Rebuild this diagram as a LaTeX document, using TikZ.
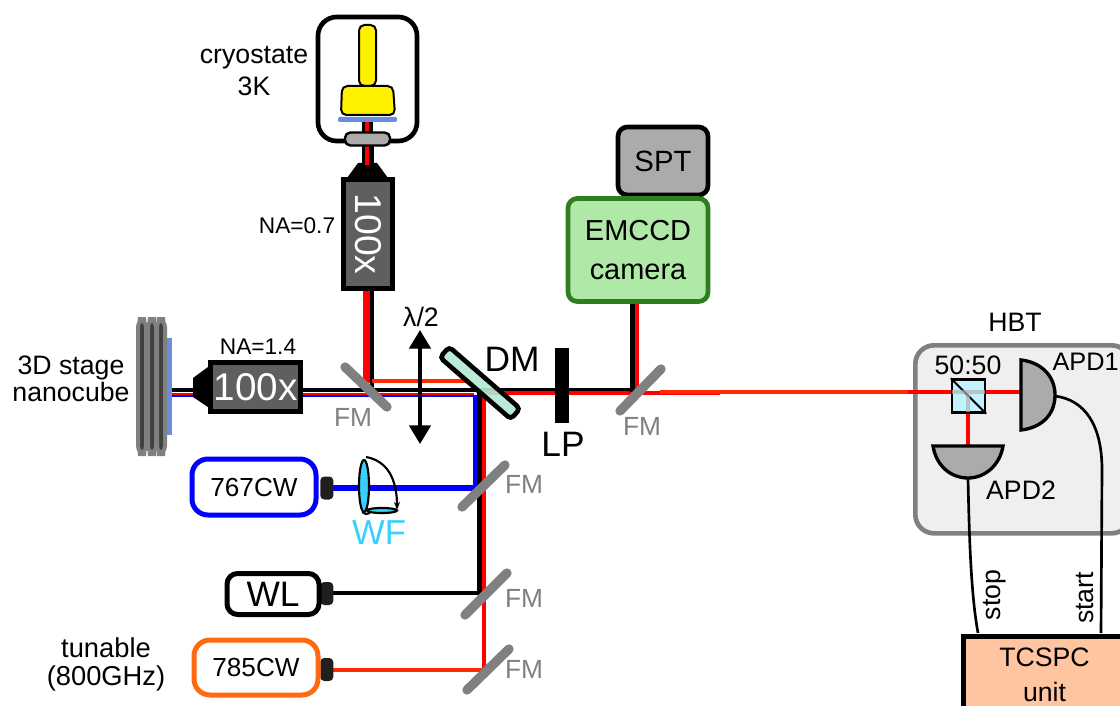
\documentclass[tikz,border=0pt]{standalone}
\usepackage{fontspec}
\setmainfont{Liberation Sans}
\usetikzlibrary{arrows.meta,calc}
\definecolor{fmg}{HTML}{808080}
\definecolor{darkbox}{HTML}{5F5F5F}
\definecolor{redo}{HTML}{FF2A00}
\definecolor{dmfill}{HTML}{B5E8D5}
\definecolor{wfc}{HTML}{38D0FF}
\definecolor{bluepl}{HTML}{6A8FD8}
\definecolor{emg}{HTML}{B0E8A8}
\definecolor{emd}{HTML}{2E7D1E}
\definecolor{tcs}{HTML}{FFC4A0}
\definecolor{hbtf}{HTML}{EFEFEF}
\definecolor{apdg}{HTML}{ABABAB}
\definecolor{orangec}{HTML}{FF6A10}
\newcommand{\px}{0.75pt}
\tikzset{
 x=0.75pt,y=-0.75pt,
 t/.style={inner sep=0pt,align=center,text=black,font=\fontsize{#1}{\dimexpr #1pt*6/5\relax}\selectfont},
 fmlab/.style={inner sep=0pt,text=fmg,font=\fontsize{19.7}{22}\selectfont},
 beamk/.style={line width=3.6pt,black},
 beamr/.style={line width=3pt,red},
 beamo/.style={line width=3.4pt,redo},
 fmirror/.style={line width=7pt,fmg,line cap=round},
 laser/.style={draw,rounded corners=12pt,line width=3.75pt,fill=white,inner sep=0pt},
 capbox/.style={fill=black!88,rounded corners=3pt,minimum width=13*\px,minimum height=23*\px,inner sep=0pt},
 obj/.style={draw=black,fill=darkbox,line width=3.5pt,inner sep=0pt,text=white,font=\fontsize{29}{29}\selectfont},
 wire/.style={line width=2pt,black},
}
\begin{document}
\begin{tikzpicture}
\useasboundingbox (0,0) rectangle (1120,706);
% anchors
\coordinate (stageR) at (170,390);
\coordinate (bsL) at (910,392);
% HBT box
\node[draw=fmg,fill=hbtf,line width=3.5pt,rounded corners=14pt,minimum width=215*\px,minimum height=188*\px,inner sep=0pt,anchor=north west] (hbt) at (913,343) {};
% Vertical beams
\draw[line width=5pt,red] (366.6,140) -- (366.6,383);
\draw[beamk] (372,140) -- (372,390);
\draw[beamo] (372,381) -- (470,381);
\draw[line width=1.6pt,blue] (170,395.5) -- (474,395.5);
\draw[line width=1.5pt,red] (170,393.8) -- (474,393.8);
\draw[line width=3pt,blue] (474.5,395) -- (474.5,488);
\draw[line width=4.2pt,blue] (330,488) -- (476,488);
\draw[beamr] (484,393) -- (484,670);
\draw[beamk] (stageR) -- (632,390);
\draw[beamk] (479.5,392) -- (479.5,595);
\draw[beamk] (333,593) -- (481,593);
\draw[beamo] (330,670) -- (485,670);
\draw[beamr] (482,392.6) -- (720,392.6);
\draw[beamr] (637.3,303) -- (637.3,392);
\draw[beamk] (632.5,303) -- (632.5,391.5);
\draw[line width=2.8pt,redo] (660,392) -- (bsL);
\draw[line width=3.5pt,red] (908,392) -- (1020,392);
\draw[line width=3.5pt,red] (968,392) -- (968,450);
% FM mirrors
\draw[fmirror] (345,367) -- (387,407);
\draw[fmirror] (620,411) -- (661,369);
\draw[fmirror] (462,507) -- (505,465);
\draw[fmirror] (465,615) -- (507,573);
\draw[fmirror] (467,690) -- (509,649);
\node[fmlab] (fml1) at (353,417) {FM};
\node[fmlab] (fml2) at (642,426) {FM};
\node[fmlab] (fml3) at (524,484) {FM};
\node[fmlab] (fml4) at (524,598) {FM};
\node[fmlab] (fml5) at (524,669) {FM};
% Stage
\foreach \xx in {142,152,161}{
  \draw[line width=3pt,draw=fmg,fill=black!75,rounded corners=6pt] (\xx-4,319) rectangle (\xx+4,454);
}
\fill[bluepl] (167,338) rectangle (172,435);
\node[t=20,font=\fontsize{20}{20.5}\selectfont] (stage) at (71,379) {3D stage\\nanocube};
% objective horizontal
\fill (193,378) -- (208,367) -- (208,407) -- (193,397) -- cycle;
\node[obj,minimum width=90*\px,minimum height=49*\px] (objH) at (255.5,387) {100x};
\node[t=17] (na14) at (258,347) {NA=1.4};
% objective vertical
\fill (347,178) -- (358,163) -- (377,163) -- (388,178) -- cycle;
\node[obj,minimum width=109*\px,minimum height=49*\px,rotate=-90] (objV) at (368,234) {};
\node[rotate=-90,text=white,inner sep=0pt,font=\fontsize{28}{28}\selectfont] (objVt) at (368,234) {100x};
\node[t=17] (na07) at (297,226) {NA=0.7};
% Cryostat
\draw[line width=3.5pt,fill=white,rounded corners=14pt] (318,17) rectangle (417,141);
\draw[line width=4pt,red] (366.6,118) -- (366.6,165);
\draw[line width=2.8pt] (371,118) -- (371,165);
\draw[line width=2pt] (363.5,118) -- (363.5,165);
\draw[line width=1.5pt,fill=yellow,rounded corners=4pt] (359,25) rectangle (376,86);
\draw[line width=1.5pt,fill=yellow,rounded corners=4pt] (342,86) -- (393,86) -- (395,115) -- (341,115) -- cycle;
\fill[bluepl,rounded corners=1pt] (338,117) rectangle (397,122);
\node[draw,line width=1.8pt,fill=apdg,rounded corners=4pt,minimum width=45*\px,minimum height=13*\px,inner sep=0pt] (win) at (367.5,139) {};
\node[t=20] (cryo) at (254,71) {cryostate\\3K};
% lambda/2
\node[t=20] (lam) at (421,317) {λ/2};
\draw[line width=2.8pt,{Triangle[length=14pt,width=16pt]}-{Triangle[length=14pt,width=16pt]}] (420,330) -- (420,444);
% DM
\draw[line width=3.5pt,fill=dmfill,fill opacity=0.9,rounded corners=3pt,rotate around={-41:(480,383)}] (433,376) rectangle (527,390);
\node[t=26.5] (dmlab) at (512,359) {DM};
% LP
\fill (555,348) rectangle (569,423);
\node[t=26.5] (lp) at (563,444) {LP};
% Camera
\node[draw,line width=3.5pt,fill=apdg,rounded corners=7pt,minimum width=90*\px,minimum height=68*\px,inner sep=0pt,font=\fontsize{22}{24}\selectfont] (spt) at (663,161) {SPT};
\node[draw=emd,line width=3.5pt,fill=emg,rounded corners=7pt,minimum width=140*\px,minimum height=103*\px,inner sep=0pt,align=center,font=\fontsize{21.7}{29}\selectfont] (em) at (638,250) {EMCCD\\camera};
% lasers
\node[capbox,anchor=west] (c767) at (320,488) {};
\node[laser,draw=blue,minimum width=124*\px,minimum height=56*\px,font=\fontsize{19.6}{22}\selectfont] (l767) at (254,487) {767CW};
\node[capbox,anchor=west] (cwl) at (320,593.5) {};
\node[laser,draw=black,minimum width=92*\px,minimum height=41*\px,font=\fontsize{26.5}{28}\selectfont,rounded corners=8pt] (wl) at (273,594) {WL};
\node[capbox,anchor=west] (c785) at (320,669.5) {};
\node[laser,draw=orangec,minimum width=124*\px,minimum height=55*\px,font=\fontsize{19.6}{22}\selectfont] (l785) at (256,667.5) {785CW};
\node[t=20.5,font=\fontsize{20.5}{21}\selectfont] (tun) at (106,664) {tunable\\(800GHz)};
% WF
\draw[line width=1.6pt,fill=wfc] (382,510.5) ellipse (15 and 2.5);
\draw[line width=1.6pt,-{Stealth[length=6pt]}] (366,457) .. controls (388,461) and (397,480) .. (397,510);
\draw[line width=1.6pt] (362,512) -- (366,514) -- (370,513);
\draw[line width=1.6pt,fill=wfc] (364,486) ellipse (5 and 26);
\node[inner sep=0pt,text=wfc,font=\fontsize{26}{28}\selectfont] (wf) at (379,533) {WF};
% HBT contents
\node[t=20] (hbtl) at (1015,322) {HBT};
\node[t=20] (ff) at (968,365) {50:50};
\node[draw,line width=1.8pt,fill=wfc!30,minimum width=33*\px,minimum height=33*\px,inner sep=0pt] (bs) at (968.5,396) {};
\draw[line width=1.5pt] (bs.north west) -- (bs.south east);
\draw[line width=2.5pt,black!30,opacity=.7] (952,392) -- (985,392) (968,392) -- (968,412);
\draw[line width=2.5pt,fill=apdg] (1021,360) .. controls (1040,362) and (1055,375) .. (1055,395) .. controls (1055,416) and (1040,428) .. (1021,430) -- cycle;
\coordinate (apd1o) at (1055,396);
\draw[line width=2.5pt,fill=apdg] (933,446) -- (1003,446) .. controls (1000,465) and (985,478) .. (968,478) .. controls (950,478) and (936,465) .. (933,446) -- cycle;
\coordinate (apd2o) at (968,479);
\node[t=19,anchor=east] (apd1) at (1119,362) {APD1};
\node[t=20] (apd2) at (1021,490) {APD2};
% TCSPC
\node[draw,line width=3.75pt,fill=tcs,minimum width=163*\px,minimum height=76*\px,inner sep=0pt,anchor=north west,align=center,font=\fontsize{20}{26}\selectfont] (tc) at (960.5,634) {TCSPC\\unit};
\coordinate (tcs1) at (978,633);
\coordinate (tcs2) at (1101,633);
\draw[wire] (apd2o) .. controls (969,520) and (970,590) .. (tcs1);
\draw[wire] (apd1o) .. controls (1085,400) and (1102,425) .. (1102,470) -- (tcs2);
\node[t=20,rotate=90] (stop) at (995,595) {stop};
\node[t=20,rotate=90] (start) at (1085,598) {start};
\end{tikzpicture}
\end{document}
